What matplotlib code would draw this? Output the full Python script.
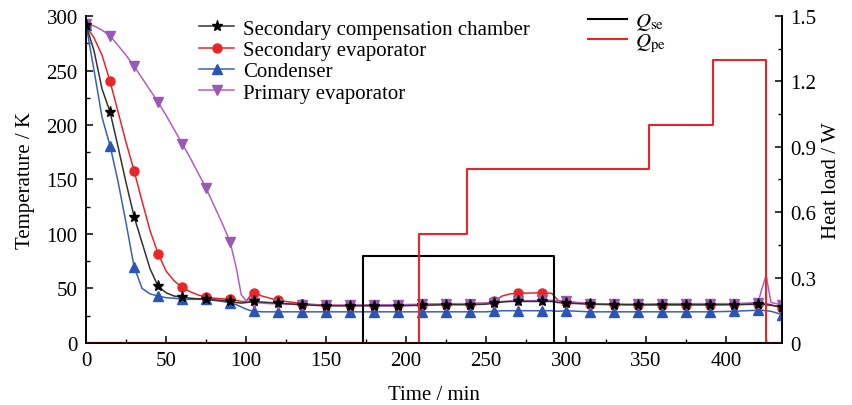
import matplotlib
matplotlib.use("Agg")
import matplotlib.pyplot as plt
from matplotlib.ticker import MultipleLocator, FuncFormatter
import numpy as np

plt.rcParams['font.family'] = ['Liberation Serif', 'DejaVu Serif']
plt.rcParams['mathtext.fontset'] = 'stix'

# ---- data ----
time_min = [0, 5, 10, 15, 20, 25, 30, 35, 40, 45, 50, 55, 60, 65, 70, 75, 80, 85, 90,
            94, 97, 100, 103,
            105, 110, 115, 120,
            135, 150, 165, 180, 195, 210, 225, 240,
            250, 255, 260, 265, 270,
            285, 291, 295, 300,
            315, 330, 345, 360, 375, 390, 405, 420,
            422, 425, 428, 435]

sec_comp_chamber = [292, 268, 233, 212, 180, 147, 116, 92, 68, 52, 46, 43, 42, 41, 40.5, 40, 39.5, 39, 38,
                    37, 36.5, 37, 37.5,
                    38, 37.5, 37, 36.5,
                    35, 34, 34, 34, 34, 34.5, 35, 35,
                    35.5, 36.5, 37.5, 38, 38,
                    38, 38, 37, 36.5,
                    35.5, 35, 35, 35, 35, 35, 35, 35.5,
                    35.5, 35, 34.5, 33]

sec_evaporator = [291, 280, 264, 240, 212, 184, 158, 130, 103, 82, 66, 57, 51, 47, 44, 42, 41, 40.5, 40,
                  39, 38, 38, 44,
                  46, 43, 41, 39,
                  36, 34.5, 34.5, 34.5, 34.5, 35, 35.5, 36,
                  36.5, 38, 43, 45, 45.5,
                  46, 45.5, 39, 37.5,
                  36, 35.5, 35, 35, 35, 35, 35.5, 36,
                  36, 36, 35, 32]

condenser = [292, 250, 207, 181, 148, 110, 70, 50, 45, 43, 41.5, 41, 40, 40, 40, 40, 39, 38, 37,
             35, 33, 31, 29.5,
             29, 28.5, 28.5, 28.5,
             28.5, 28.5, 28.5, 28.5, 28.5, 28.5, 28.5, 28.5,
             28.5, 29, 29.5, 29.5, 29.5,
             29.5, 29.5, 29, 29.5,
             28.5, 28.5, 28.5, 28.5, 28.5, 28.5, 29, 30,
             30, 29.5, 29, 26]

primary_evaporator = [293, 291, 287, 282, 273, 264, 254, 243, 232, 221, 209, 196, 183, 170, 156, 142, 126, 110, 93,
                      68, 44, 39, 37.5,
                      37, 36.5, 36, 36,
                      35, 34.5, 34.5, 35, 35, 35.5, 36, 36,
                      36.5, 37, 38, 38.5, 38.5,
                      39, 39, 38.5, 38,
                      36, 35.5, 35.5, 36, 36, 36, 36, 37,
                      48, 62, 37, 35]

# heat loads (step functions, value holds from each time until the next)
q_se_time = [0, 173, 292.5, 435]
q_se = [0, 0.4, 0, 0]
q_pe_time = [0, 208, 238, 352, 392, 425, 435]
q_pe = [0, 0.5, 0.8, 1.0, 1.3, 0, 0]

# ---- figure ----
fig = plt.figure(figsize=(8.52, 4.06), dpi=100)
ax = fig.add_axes([0.101, 0.153, 0.817, 0.805])
ax2 = ax.twinx()

t = np.array(time_min)
mk = [i for i, v in enumerate(time_min) if v % 15 == 0]

lw = 1.1
ax.plot(t, sec_comp_chamber, color='#333333', lw=lw, marker='*', ms=8, mfc='black', mec='black',
        markevery=mk, label='Secondary compensation chamber', zorder=4)
ax.plot(t, sec_evaporator, color='#E8262A', lw=lw, marker='o', ms=6.5, mfc='#E8262A', mec='#E8262A',
        markevery=mk, label='Secondary evaporator', zorder=3)
ax.plot(t, condenser, color='#3A5FC0', lw=lw, marker='^', ms=6.5, mfc='#2B55B5', mec='#2B55B5',
        markevery=mk, label='Condenser', zorder=3)
ax.plot(t, primary_evaporator, color='#B45CC6', lw=lw, marker='v', ms=6.5, mfc='#9B59B6', mec='#9B59B6',
        markevery=mk, label='Primary evaporator', zorder=3)

ax2.plot(q_se_time, q_se, color='black', lw=1.5, drawstyle='steps-post', label=r'$Q_{\rm se}$')
ax2.plot(q_pe_time, q_pe, color='#E8262A', lw=1.5, drawstyle='steps-post', label=r'$Q_{\rm pe}$')

ax.set_xlim(0, 435)
ax.set_ylim(0, 300)
ax2.set_ylim(0, 1.5)

fs = 15
ax.xaxis.set_major_locator(MultipleLocator(50))
ax.xaxis.set_minor_locator(MultipleLocator(25))
ax.yaxis.set_major_locator(MultipleLocator(50))
ax.yaxis.set_minor_locator(MultipleLocator(25))
ax2.yaxis.set_major_locator(MultipleLocator(0.3))
ax2.yaxis.set_minor_locator(MultipleLocator(0.15))
ax2.yaxis.set_major_formatter(FuncFormatter(lambda v, p: '%g' % round(v, 2)))

for a in (ax, ax2):
    a.tick_params(which='major', direction='in', length=5, width=1.1, labelsize=fs, pad=6)
    a.tick_params(which='minor', direction='in', length=3, width=1.0)
    a.spines['top'].set_visible(False)
    for s in a.spines.values():
        s.set_linewidth(1.2)
ax.tick_params(axis='y', which='both', right=False)
ax2.tick_params(axis='x', which='both', top=False, bottom=False)

ax.set_xlabel('Time / min', fontsize=fs, labelpad=11)
ax.set_ylabel('Temperature / K', fontsize=fs, labelpad=8)
ax2.set_ylabel('Heat load / W', fontsize=fs, labelpad=4)

leg1 = ax.legend(loc='upper left', bbox_to_anchor=(0.142, 1.035), frameon=False, fontsize=fs,
                 handlelength=1.65, handletextpad=0.45, labelspacing=0.08, borderpad=0.2)
leg2 = ax2.legend(loc='upper left', bbox_to_anchor=(0.7, 1.06), frameon=False, fontsize=fs,
                  handlelength=1.9, handletextpad=0.35, labelspacing=0.0, borderpad=0.2)

fig.savefig('out.png', dpi=100)
